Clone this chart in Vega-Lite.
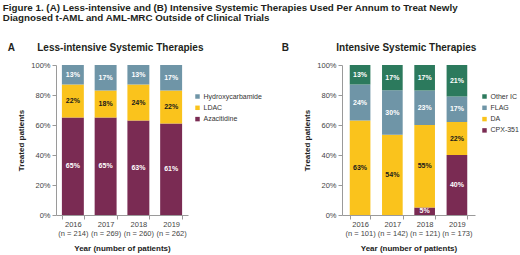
{
  "$schema": "https://vega.github.io/schema/vega-lite/v6.json",
  "background": "white",
  "padding": {"left": 2, "top": 2, "right": 0, "bottom": 0},
  "config": {
    "font": "Liberation Sans",
    "view": {"stroke": null},
    "axis": {
      "labelFontSize": 7.5,
      "labelColor": "#444444",
      "labelOverlap": false,
      "titleFontSize": 8,
      "titleFontWeight": "bold",
      "titleColor": "#222222",
      "domainColor": "#9a9a9a",
      "tickColor": "#9a9a9a",
      "tickSize": 4,
      "grid": false
    },
    "legend": {
      "labelFontSize": 7,
      "labelColor": "#333333",
      "symbolType": "square",
      "symbolSize": 20,
      "symbolStrokeWidth": 0,
      "rowPadding": 3.3,
      "labelOffset": 2.5
    }
  },
  "title": {
    "text": ["Figure 1. (A) Less-intensive and (B) Intensive Systemic Therapies Used Per Annum to Treat Newly", "Diagnosed t-AML and AML-MRC Outside of Clinical Trials"],
    "anchor": "start",
    "frame": "bounds",
    "fontSize": 9.8,
    "fontWeight": "bold",
    "lineHeight": 10.5,
    "color": "#231f20",
    "offset": 20,
    "dx": -5
  },
  "datasets": {
    "a": [
      {"year": "2016\n(n = 214)", "therapy": "Azacitidine", "pct": 65},
      {"year": "2016\n(n = 214)", "therapy": "LDAC", "pct": 22},
      {"year": "2016\n(n = 214)", "therapy": "Hydroxycarbamide", "pct": 13},
      {"year": "2017\n(n = 269)", "therapy": "Azacitidine", "pct": 65},
      {"year": "2017\n(n = 269)", "therapy": "LDAC", "pct": 18},
      {"year": "2017\n(n = 269)", "therapy": "Hydroxycarbamide", "pct": 17},
      {"year": "2018\n(n = 260)", "therapy": "Azacitidine", "pct": 63},
      {"year": "2018\n(n = 260)", "therapy": "LDAC", "pct": 24},
      {"year": "2018\n(n = 260)", "therapy": "Hydroxycarbamide", "pct": 13},
      {"year": "2019\n(n = 262)", "therapy": "Azacitidine", "pct": 61},
      {"year": "2019\n(n = 262)", "therapy": "LDAC", "pct": 22},
      {"year": "2019\n(n = 262)", "therapy": "Hydroxycarbamide", "pct": 17}
    ],
    "b": [
      {"year": "2016\n(n = 101)", "therapy": "CPX-351", "pct": 0},
      {"year": "2016\n(n = 101)", "therapy": "DA", "pct": 63},
      {"year": "2016\n(n = 101)", "therapy": "FLAG", "pct": 24},
      {"year": "2016\n(n = 101)", "therapy": "Other IC", "pct": 13},
      {"year": "2017\n(n = 142)", "therapy": "CPX-351", "pct": 0},
      {"year": "2017\n(n = 142)", "therapy": "DA", "pct": 54},
      {"year": "2017\n(n = 142)", "therapy": "FLAG", "pct": 30},
      {"year": "2017\n(n = 142)", "therapy": "Other IC", "pct": 17},
      {"year": "2018\n(n = 121)", "therapy": "CPX-351", "pct": 5},
      {"year": "2018\n(n = 121)", "therapy": "DA", "pct": 55},
      {"year": "2018\n(n = 121)", "therapy": "FLAG", "pct": 23},
      {"year": "2018\n(n = 121)", "therapy": "Other IC", "pct": 17},
      {"year": "2019\n(n = 173)", "therapy": "CPX-351", "pct": 40},
      {"year": "2019\n(n = 173)", "therapy": "DA", "pct": 22},
      {"year": "2019\n(n = 173)", "therapy": "FLAG", "pct": 17},
      {"year": "2019\n(n = 173)", "therapy": "Other IC", "pct": 21}
    ]
  },
  "bounds": "flush",
  "spacing": 154,
  "resolve": {"scale": {"color": "independent"}, "legend": {"color": "independent"}},
  "hconcat": [
    {
      "width": 132,
      "height": 150,
      "data": {"name": "a"},
      "title": {
        "text": "A\u00a0\u00a0\u00a0\u00a0\u00a0\u00a0\u00a0\u00a0Less-intensive Systemic Therapies",
        "anchor": "start",
        "frame": "bounds",
        "dx": -10,
        "fontSize": 10,
        "fontWeight": "bold",
        "color": "#231f20",
        "offset": 8
      },
      "transform": [
        {"calculate": "indexof(['Azacitidine','LDAC','Hydroxycarbamide'], datum.therapy)", "as": "k"},
        {"stack": "pct", "groupby": ["year"], "sort": [{"field": "k", "order": "ascending"}], "offset": "normalize", "as": ["y0", "y1"]},
        {"calculate": "(datum.y0 + datum.y1) / 2", "as": "ym"},
        {"calculate": "datum.pct + '%'", "as": "lab"}
      ],
      "encoding": {
        "x": {
          "field": "year",
          "type": "nominal",
          "scale": {"paddingInner": 0.33, "paddingOuter": 0.18},
          "axis": {
            "title": "Year (number of patients)",
            "labelAngle": 0,
            "labelExpr": "split(datum.label, '\\n')",
            "tickBand": "extent",
            "labelPadding": 1,
            "labelLineHeight": 9,
            "titlePadding": 8
          }
        }
      },
      "layer": [
        {
          "mark": {"type": "bar"},
          "encoding": {
            "y": {
              "field": "y0",
              "type": "quantitative",
              "scale": {"domain": [0, 1]},
              "axis": {"title": "Treated patients", "format": ".0%", "values": [0, 0.2, 0.4, 0.6, 0.8, 1], "labelOverlap": false, "labelPadding": 2, "titlePadding": 5}
            },
            "y2": {"field": "y1"},
            "color": {
              "field": "therapy",
              "type": "nominal",
              "scale": {"domain": ["Hydroxycarbamide", "LDAC", "Azacitidine"], "range": ["#6f95a7", "#fac31c", "#7a2b53"]},
              "legend": {"title": null, "orient": "none", "legendX": 138, "legendY": 28}
            }
          }
        },
        {
          "transform": [{"filter": "datum.pct > 0"}],
          "mark": {"type": "text", "fontSize": 7, "fontWeight": "bold"},
          "encoding": {
            "y": {
              "field": "ym",
              "type": "quantitative",
              "axis": {"title": "Treated patients", "format": ".0%", "values": [0, 0.2, 0.4, 0.6, 0.8, 1], "labelOverlap": false, "labelPadding": 2, "titlePadding": 5}
            },
            "text": {"field": "lab", "type": "nominal"},
            "color": {"condition": {"test": "datum.therapy === 'LDAC'", "value": "#1a1a1a"}, "value": "#ffffff"}
          }
        }
      ]
    },
    {
      "width": 133,
      "height": 150,
      "data": {"name": "b"},
      "title": {
        "text": "B\u00a0\u00a0\u00a0\u00a0\u00a0\u00a0\u00a0\u00a0\u00a0\u00a0\u00a0\u00a0\u00a0\u00a0\u00a0\u00a0\u00a0Intensive Systemic Therapies",
        "anchor": "start",
        "frame": "bounds",
        "dx": -22,
        "fontSize": 10,
        "fontWeight": "bold",
        "color": "#231f20",
        "offset": 8
      },
      "transform": [
        {"calculate": "indexof(['CPX-351','DA','FLAG','Other IC'], datum.therapy)", "as": "k"},
        {"stack": "pct", "groupby": ["year"], "sort": [{"field": "k", "order": "ascending"}], "offset": "normalize", "as": ["y0", "y1"]},
        {"calculate": "(datum.y0 + datum.y1) / 2", "as": "ym"},
        {"calculate": "datum.pct + '%'", "as": "lab"}
      ],
      "encoding": {
        "x": {
          "field": "year",
          "type": "nominal",
          "scale": {"paddingInner": 0.36, "paddingOuter": 0.24},
          "axis": {
            "title": "Year (number of patients)",
            "labelAngle": 0,
            "labelExpr": "split(datum.label, '\\n')",
            "tickBand": "extent",
            "labelPadding": 1,
            "labelLineHeight": 9,
            "titlePadding": 8
          }
        }
      },
      "layer": [
        {
          "mark": {"type": "bar"},
          "encoding": {
            "y": {
              "field": "y0",
              "type": "quantitative",
              "scale": {"domain": [0, 1]},
              "axis": {"title": "Treated patients", "format": ".0%", "values": [0, 0.2, 0.4, 0.6, 0.8, 1], "labelOverlap": false, "labelPadding": 2, "titlePadding": 5}
            },
            "y2": {"field": "y1"},
            "color": {
              "field": "therapy",
              "type": "nominal",
              "scale": {"domain": ["Other IC", "FLAG", "DA", "CPX-351"], "range": ["#2c7a5d", "#6f95a7", "#fac31c", "#7a2b53"]},
              "legend": {"title": null, "orient": "none", "legendX": 139, "legendY": 28}
            }
          }
        },
        {
          "transform": [{"filter": "datum.pct > 0"}],
          "mark": {"type": "text", "fontSize": 7, "fontWeight": "bold"},
          "encoding": {
            "y": {
              "field": "ym",
              "type": "quantitative",
              "axis": {"title": "Treated patients", "format": ".0%", "values": [0, 0.2, 0.4, 0.6, 0.8, 1], "labelOverlap": false, "labelPadding": 2, "titlePadding": 5}
            },
            "text": {"field": "lab", "type": "nominal"},
            "color": {"condition": {"test": "datum.therapy === 'DA'", "value": "#1a1a1a"}, "value": "#ffffff"}
          }
        }
      ]
    }
  ]
}
